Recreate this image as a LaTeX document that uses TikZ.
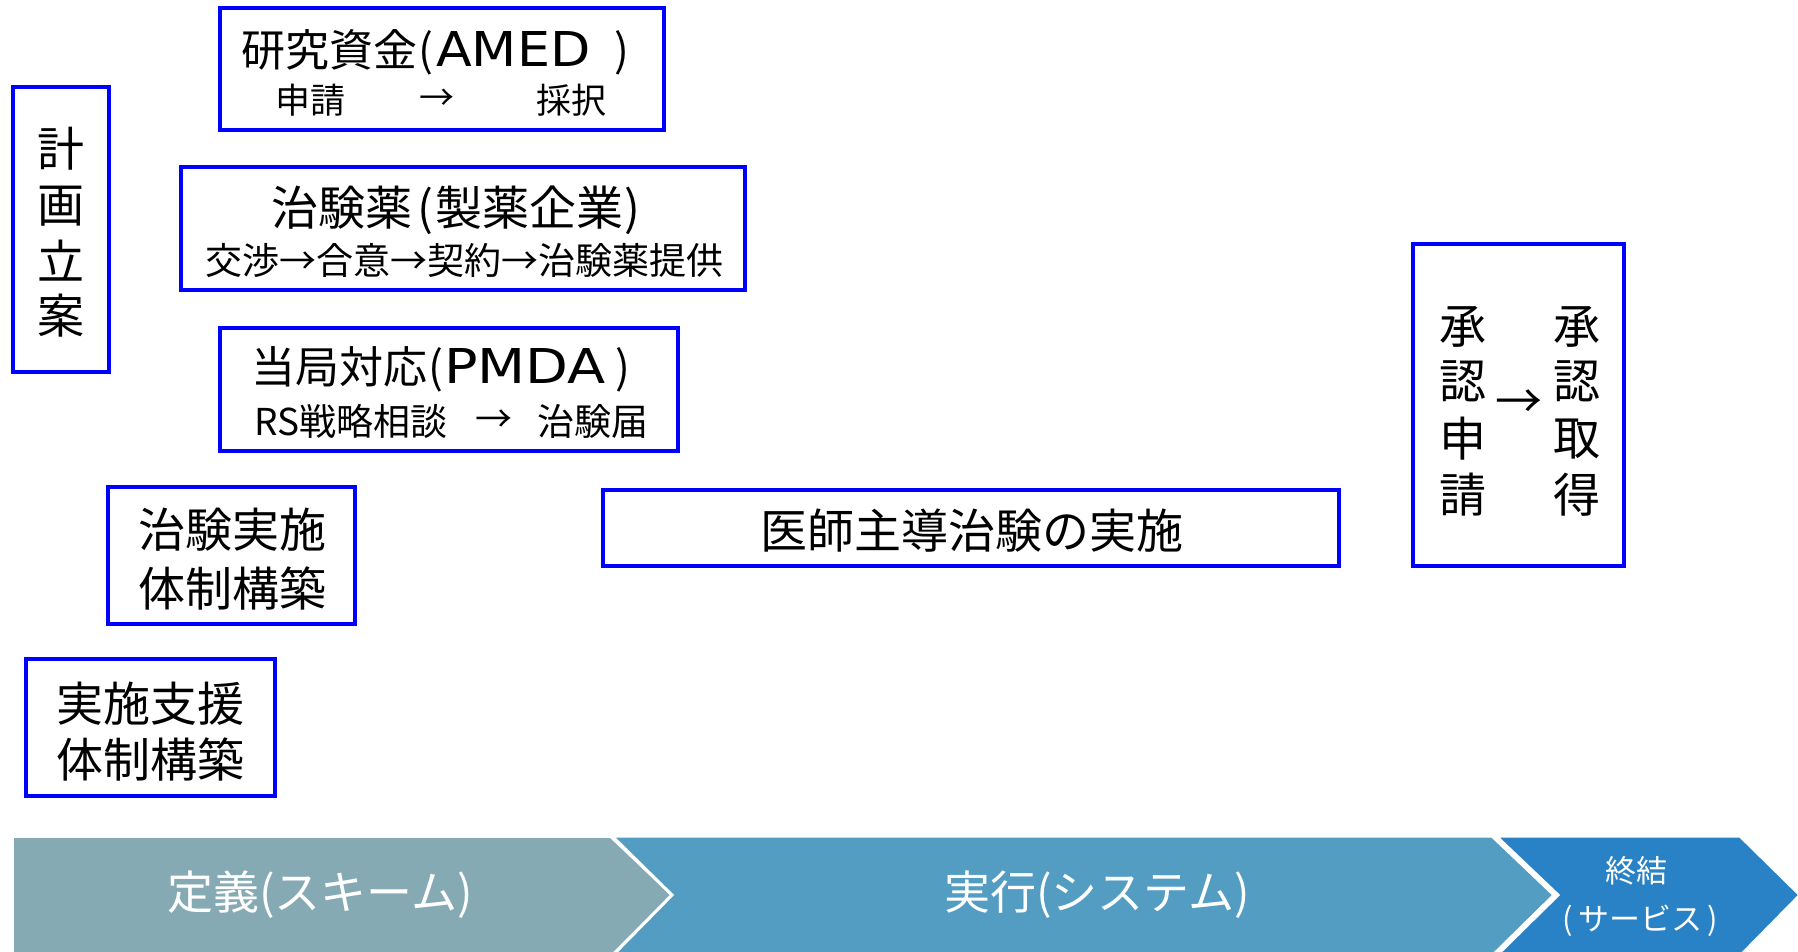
\documentclass[tikz,border=0pt]{standalone}
\usepackage{fontspec}
\usepackage{graphicx}
\setmainfont{Noto Sans CJK JP}
\newfontfamily\latf{DejaVu Sans}
\definecolor{boxblue}{RGB}{0,0,255}
\definecolor{chevA}{RGB}{134,170,180}
\definecolor{chevB}{RGB}{82,157,193}
\definecolor{chevC}{RGB}{42,130,198}
\newcommand{\latw}[2]{{\latf\fontsize{48}{52}\selectfont\scalebox{#1}[1]{#2}}}
\tikzset{
  box/.style={draw=boxblue, line width=3.5pt, fill=white, inner sep=0pt},
  ttl/.style={font=\fontsize{44}{48}\selectfont, inner sep=0pt, anchor=west},
  big/.style={font=\fontsize{47}{50}\selectfont, inner sep=0pt},
  sub/.style={font=\fontsize{36}{40}\selectfont, inner sep=0pt},
  chev/.style={draw=white, line width=3pt},
  chevtxt/.style={text=white, inner sep=0pt},
}
\begin{document}
\begin{tikzpicture}[x=1pt,y=-1pt]
\useasboundingbox (0,0) rectangle (1798,952);
% boxes
\node[box, minimum width=444, minimum height=122] (amed) at (442,69) {};
\node[box, minimum width=564, minimum height=123] (drug) at (463,228.5) {};
\node[box, minimum width=458, minimum height=123] (pmda) at (449,389.5) {};
\node[box, minimum width=96, minimum height=285] (plan) at (61,229.5) {};
\node[box, minimum width=247, minimum height=137] (exec) at (231.5,555.5) {};
\node[box, minimum width=249, minimum height=137] (supp) at (150.5,727.5) {};
\node[box, minimum width=736, minimum height=76] (trial) at (971,528) {};
\node[box, minimum width=211, minimum height=322] (appr) at (1518.5,405) {};
% texts
\node[ttl] (amedT) at (241,52) {研究資金\hspace{1pt}(\hspace{3pt}\latw{1.09}{AMED}\hspace{24pt})};
\node[sub, font=\fontsize{35}{40}\selectfont] (amedA) at (310,100) {申請};
\node[sub, font=\fontsize{35}{40}\selectfont] (amedB) at (437,100) {→};
\node[sub, font=\fontsize{35}{40}\selectfont] (amedC) at (571,100) {採択};
\node[ttl, font=\fontsize{47}{50}\selectfont] (drugT) at (271,210) {治験薬\hspace{5pt}(\hspace{2pt}製薬企業\hspace{1pt})};
\node[sub, font=\fontsize{37}{40}\selectfont] (drugS) at (464,260) {交渉→合意→契約→治験薬提供};
\node[ttl] (pmdaT) at (251,369) {当局対応\hspace{1pt}(\hspace{1pt}\latw{1.16}{PMDA}\hspace{10pt})};
\node[sub, font=\fontsize{37}{40}\selectfont] (pmdaA) at (351,421) {RS戦略相談};
\node[sub, font=\fontsize{37}{40}\selectfont] (pmdaB) at (494,421) {→};
\node[sub, font=\fontsize{37}{40}\selectfont] (pmdaC) at (593,421) {治験届};
\node[big] (plan1) at (61,149) {計};
\node[big] (plan2) at (61,206) {画};
\node[big] (plan3) at (61,261) {立};
\node[big] (plan4) at (61,316) {案};
\node[big] (exec1) at (232,530) {治験実施};
\node[big] (exec2) at (232,588) {体制構築};
\node[big] (supp1) at (150,704) {実施支援};
\node[big] (supp2) at (150,759) {体制構築};
\node[big] (trialT) at (972,531) {医師主導治験の実施};
\node[big] (ap1) at (1463,327) {承};
\node[big] (ap2) at (1463,381) {認};
\node[big] (ap3) at (1463,439) {申};
\node[big] (ap4) at (1463,495) {請};
\node[big] (ap5) at (1577,327) {承};
\node[big] (ap6) at (1577,381) {認};
\node[big] (ap7) at (1577,439) {取};
\node[big] (ap8) at (1577,495) {得};
\node[big] (apArr) at (1519,404) {→};
% chevrons
\fill[chevA] (14,838) -- (610,838) -- (670,895) -- (610,955) -- (14,955) -- cycle;
\draw[chev, fill=chevB] (612,836) -- (1492,836) -- (1554,895) -- (1492,956) -- (612,956) -- (672,895) -- cycle;
\draw[chev, fill=chevC] (1496,836) -- (1740,836) -- (1800,895) -- (1740,956) -- (1496,956) -- (1558,895) -- cycle;
\node[chevtxt, font=\fontsize{46}{50}\selectfont] (lblA) at (320,895) {定義(スキーム)};
\node[chevtxt, font=\fontsize{46}{50}\selectfont] (lblB) at (1097,895) {実行(システム)};
\node[chevtxt, font=\fontsize{31}{34}\selectfont] (lblC1) at (1636,871) {終結};
\node[chevtxt, font=\fontsize{31}{34}\selectfont] (lblC2) at (1640,921) {(\,サービス\,)};
\end{tikzpicture}
\end{document}
